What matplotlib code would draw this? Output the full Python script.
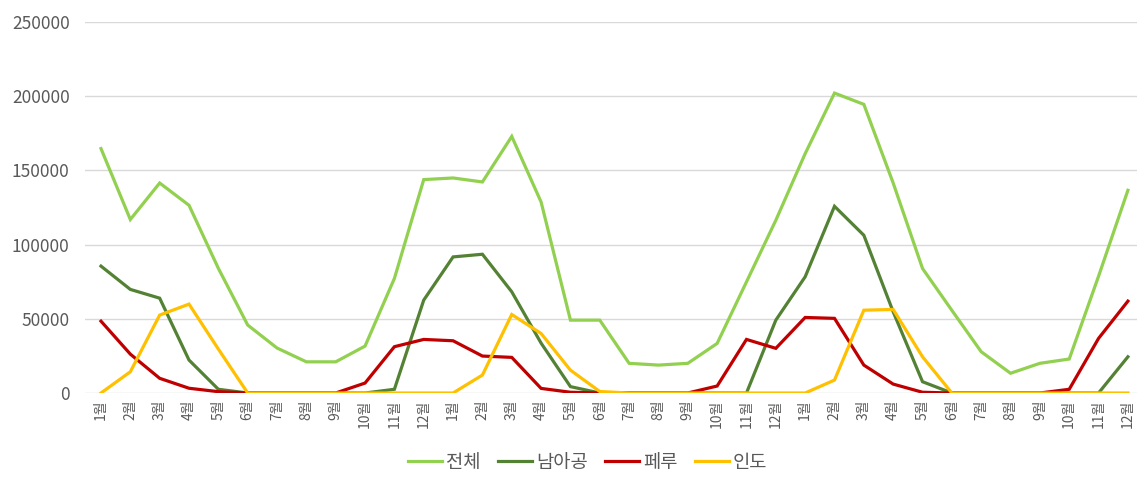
import matplotlib
matplotlib.use("Agg")
import matplotlib.pyplot as plt

plt.rcParams['font.family'] = ['Noto Sans CJK KR', 'DejaVu Sans']

months = [f"{m}월" for m in list(range(1, 13)) * 3]

total = [164700, 116900, 141500, 126500, 84000, 45800, 30300, 21000, 21000, 31600, 77200, 143800,
         144900, 142200, 172900, 128700, 49100, 49100, 20000, 18800, 20000, 33400, 74900, 116400,
         161300, 202100, 194500, 141500, 83900, 55700, 27800, 13300, 20000, 22900, 78700, 136600]
south_africa = [85500, 69800, 63900, 22200, 2500, 0, 0, 0, 0, 0, 2500, 62600,
                91700, 93500, 68200, 33600, 4300, 0, 0, 0, 0, 0, 0, 49100,
                78300, 125800, 106300, 54700, 7600, 0, 0, 0, 0, 0, 0, 24400]
peru = [48400, 26200, 9900, 3200, 900, 0, 0, 0, 0, 6700, 31200, 36100,
        35200, 24900, 24000, 3100, 500, 0, 0, 0, 0, 4700, 36100, 30100,
        50900, 50300, 18800, 6000, 500, 0, 0, 0, 0, 2500, 36800, 61900]
india = [0, 14300, 52500, 59900, 29600, 0, 0, 0, 0, 0, 0, 0,
         0, 12100, 52900, 40100, 15400, 1000, 0, 0, 0, 0, 0, 0,
         0, 8700, 55800, 56300, 24400, 0, 0, 0, 0, 0, 0, 0]

y_ticks = [0, 50000, 100000, 150000, 200000, 250000]
y_tick_labels = ["0", "50000", "100000", "150000", "200000", "250000"]

series_names = ["전체", "남아공", "페루", "인도"]
series_colors = ["#92D050", "#548235", "#C00000", "#FFC000"]

fig = plt.figure(figsize=(11.37, 4.82), dpi=100)
ax = fig.add_axes([85 / 1137, 1 - 393 / 482, 1 - 85 / 1137, (393 - 22) / 482])

x = list(range(len(months)))
for name, vals, col in zip(series_names, [total, south_africa, peru, india], series_colors):
    ax.plot(x, vals, color=col, lw=2.3, label=name, solid_joinstyle='miter')

ax.set_ylim(0, 250000)
ax.set_xlim(-0.545, 35.31)
ax.set_yticks(y_ticks)
ax.set_yticklabels(y_tick_labels)
ax.set_xticks(x)
ax.set_xticklabels(months, rotation=90)
ax.grid(axis='y', color='#D9D9D9', lw=1)
ax.set_axisbelow(True)
for s in ax.spines.values():
    s.set_visible(False)
ax.tick_params(axis='both', length=0, colors='#595959')
ax.tick_params(axis='y', labelsize=12.5, pad=11)
ax.tick_params(axis='x', labelsize=10, pad=5)

leg = fig.legend(loc='center', bbox_to_anchor=(0.517, 0.041), ncol=4, frameon=False,
                 fontsize=13.5, handlelength=1.8, handletextpad=0.2, columnspacing=0.95)
for t in leg.get_texts():
    t.set_color('#595959')

fig.savefig("out.png", dpi=100)
